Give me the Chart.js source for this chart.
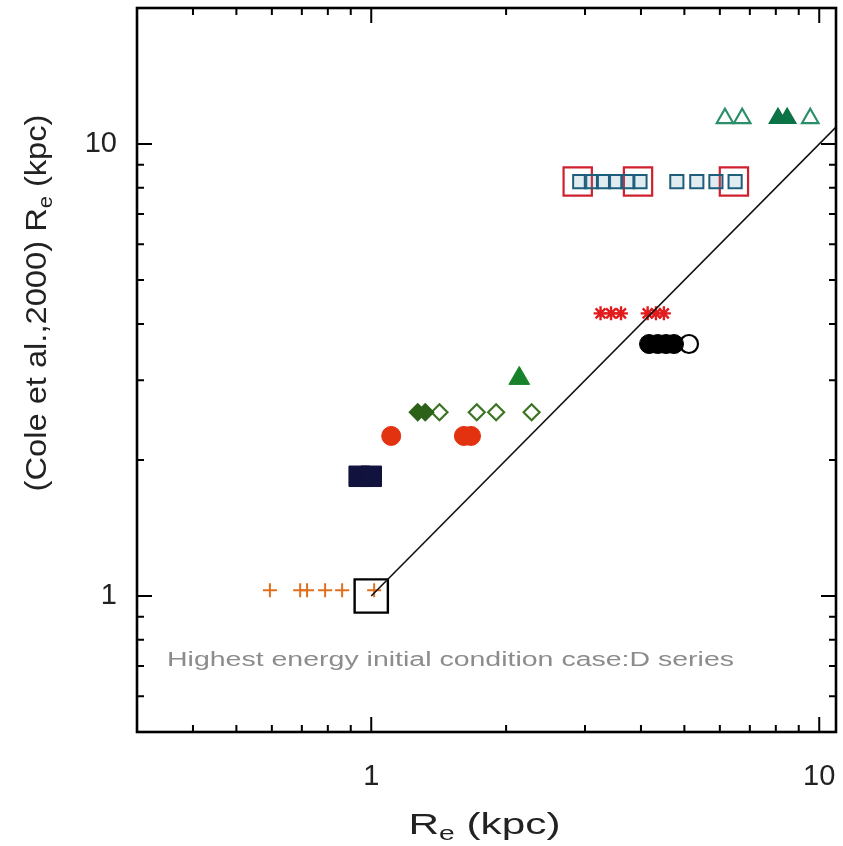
<!DOCTYPE html>
<html>
<head>
<meta charset="utf-8">
<script src="https://cdn.jsdelivr.net/npm/chart.js@4"></script>
<style>
  html, body { margin: 0; padding: 0; background: #fff; }
  #wrap { width: 843px; height: 846px; }
</style>
</head>
<body>
<div id="wrap"><canvas id="c" width="843" height="846"></canvas></div>
<script>
/* Re comparison, log-log, case D series */
const FONT = '"Liberation Sans", Arial, Helvetica, sans-serif';

// axis ranges and ticks
const xRange = [0.3, 10.9];
const yRange = [0.5, 20];
const xMajor = [1, 10];
const xMinor = [0.4, 0.5, 0.6, 0.7, 0.8, 0.9, 2, 3, 4, 5, 6, 7, 8, 9];
const yMajor = [1, 10];
const yMinor = [0.6, 0.7, 0.8, 0.9, 2, 3, 4, 5, 6, 7, 8, 9];

// series
const plusX      = [0.594, 0.694, 0.719, 0.789, 0.861, 1.015];
const plusY      = [1.03, 1.03, 1.03, 1.03, 1.03, 1.03];
const navyX      = [0.94, 1.0];
const navyY      = [1.84, 1.84];
const redDotX    = [1.108, 1.61, 1.67];
const redDotY    = [2.26, 2.26, 2.26];
const diaFillX   = [1.27, 1.32];
const diaFillY   = [2.55, 2.55];
const diaOpenX   = [1.42, 1.72, 1.90, 2.28];
const diaOpenY   = [2.55, 2.55, 2.55, 2.55];
const greenTriX  = [2.14];
const greenTriY  = [3.03];
const starX      = [3.25, 3.43, 3.61, 4.14, 4.32, 4.50];
const starY      = [4.22, 4.22, 4.22, 4.22, 4.22, 4.22];
const blackDotX  = [4.17, 4.36, 4.55, 4.74];
const blackDotY  = [3.61, 3.61, 3.61, 3.61];
const blackOpenX = [5.12];
const blackOpenY = [3.61];
const blueSqX    = [2.92, 3.10, 3.30, 3.51, 3.74, 3.98, 4.81, 5.33, 5.88, 6.49];
const blueSqY    = [8.26, 8.26, 8.26, 8.26, 8.26, 8.26, 8.26, 8.26, 8.26, 8.26];
const redBoxX    = [2.89, 3.94, 6.45];
const redBoxY    = [8.26, 8.26, 8.26];
const triOpenX   = [6.16, 6.73, 9.55];
const triOpenY   = [11.4, 11.4, 11.4];
const triFillX   = [8.09, 8.48];
const triFillY   = [11.4, 11.4];
const refBoxX    = [1.0];
const refBoxY    = [1.0];
const oneToOneX  = [1.0, 10.9];
const oneToOneY  = [1.0, 10.9];

const note = 'Highest energy initial condition case:D series';
const noteAt = { x: 0.35, y: 0.70 };

const pts = (xs, ys) => xs.map((x, i) => ({ x, y: ys[i] }));

function marks(xs, ys, style, radius, stroke, fill, width = 2) {
  return {
    type: 'scatter',
    data: pts(xs, ys),
    pointStyle: style,
    pointRadius: radius,
    pointHoverRadius: radius,
    borderColor: stroke,
    backgroundColor: fill,
    pointBorderWidth: width,
    borderWidth: width,
  };
}

const datasets = [
  {
    type: 'line',
    data: pts(oneToOneX, oneToOneY),
    borderColor: '#111',
    borderWidth: 1.6,
    pointRadius: 0,
    fill: false,
  },
  marks(plusX, plusY, 'cross', 7, '#e0701e', '#e0701e', 2),
  marks(navyX, navyY, 'rect', 14.5, '#12123e', '#12123e', 1),
  marks(redDotX, redDotY, 'circle', 9.5, '#e2320f', '#e2320f', 1),
  marks(diaFillX, diaFillY, 'rectRot', 8, '#2b6118', '#2b6118', 2),
  marks(diaOpenX, diaOpenY, 'rectRot', 8, '#3b7423', '#ffffff', 2.2),
  marks(greenTriX, greenTriY, 'triangle', 12, '#17822a', '#17822a', 1),
  marks(starX, starY, 'star', 7, '#e21c1c', '#e21c1c', 2.4),
  marks(blackDotX, blackDotY, 'circle', 9.5, '#000', '#000', 1),
  marks(blackOpenX, blackOpenY, 'circle', 9, '#000', '#ffffff', 2.2),
  marks(blueSqX, blueSqY, 'rect', 9.3, '#1f5d7c', 'rgba(90,150,180,0.18)', 2),
  marks(redBoxX, redBoxY, 'rect', 20, '#d0202e', 'rgba(0,0,0,0)', 2.2),
  marks(triOpenX, triOpenY, 'triangle', 9.5, '#2a8f68', '#ffffff', 2.2),
  marks(triFillX, triFillY, 'triangle', 9.5, '#0c7346', '#0c7346', 2),
  marks(refBoxX, refBoxY, 'rect', 23.5, '#000', 'rgba(0,0,0,0)', 2.4),
];

function logTicks(major, minor) {
  return scale => {
    scale.ticks = major.concat(minor).sort((a, b) => a - b)
      .map(v => ({ value: v, major: major.includes(v) }));
  };
}

// fixed axis boxes, no extra room for label overhang
function fixBox(size) {
  return s => {
    if (s.isHorizontal()) s.height = size; else s.width = size;
    s.paddingLeft = s.paddingRight = s.paddingTop = s.paddingBottom = 0;
  };
}

// draw text stretched to a given width, centred on 0
function fitText(ctx, parts, width) {
  let w = 0;
  parts.forEach(p => { ctx.font = `${p.size}px ${FONT}`; p.w = ctx.measureText(p.t).width; w += p.w; });
  ctx.scale(width / w, 1);
  let cx = -w / 2;
  parts.forEach(p => {
    ctx.font = `${p.size}px ${FONT}`;
    ctx.fillText(p.t, cx, p.dy);
    cx += p.w;
  });
}

// inward tick marks on all four sides plus the frame
const frame = {
  id: 'frame',
  afterDatasetsDraw(chart) {
    const { ctx, chartArea: a, scales: { x, y } } = chart;
    ctx.save();
    ctx.strokeStyle = '#000';
    ctx.lineWidth = 2;
    ctx.beginPath();
    x.ticks.forEach(t => {
      const px = x.getPixelForValue(t.value);
      const len = t.major ? 15 : 7;
      ctx.moveTo(px, a.bottom); ctx.lineTo(px, a.bottom - len);
      ctx.moveTo(px, a.top);    ctx.lineTo(px, a.top + len);
    });
    y.ticks.forEach(t => {
      const py = y.getPixelForValue(t.value);
      const len = t.major ? 15 : 7;
      ctx.moveTo(a.left, py);  ctx.lineTo(a.left + len, py);
      ctx.moveTo(a.right, py); ctx.lineTo(a.right - len, py);
    });
    ctx.stroke();
    ctx.lineWidth = 2.6;
    ctx.strokeRect(a.left, a.top, a.right - a.left, a.bottom - a.top);
    ctx.restore();
  },
  afterDraw(chart) {
    const { ctx, chartArea: a, scales: { x, y } } = chart;

    // note inside the plot
    ctx.save();
    ctx.fillStyle = '#8c8c8c';
    ctx.textBaseline = 'alphabetic';
    const nx = x.getPixelForValue(noteAt.x), ny = y.getPixelForValue(noteAt.y);
    ctx.translate(nx + 567 / 2, ny);
    fitText(ctx, [{ t: note, size: 20, dy: 0 }], 567);
    ctx.restore();

    // axis titles with subscript e
    ctx.save();
    ctx.fillStyle = '#222';
    ctx.textBaseline = 'alphabetic';
    ctx.translate((a.left + a.right) / 2 - 2, 834);
    fitText(ctx, [{ t: 'R', size: 30, dy: 0 }, { t: 'e', size: 20, dy: 6 }, { t: ' (kpc)', size: 30, dy: 0 }], 152);
    ctx.restore();

    ctx.save();
    ctx.fillStyle = '#222';
    ctx.textBaseline = 'alphabetic';
    ctx.translate(46, 303);
    ctx.rotate(-Math.PI / 2);
    fitText(ctx, [{ t: '(Cole et al.,2000) R', size: 30, dy: 0 }, { t: 'e', size: 20, dy: 6 }, { t: ' (kpc)', size: 30, dy: 0 }], 377);
    ctx.restore();
  },
};

const tickLabel = v => (v === 1 ? '1' : v === 10 ? '10' : '');

new Chart(document.getElementById('c'), {
  data: { datasets },
  options: {
    responsive: false,
    animation: false,
    layout: { autoPadding: false, padding: { top: 8, right: 7, left: 0, bottom: 0 } },
    plugins: { legend: { display: false }, tooltip: { enabled: false } },
    scales: {
      x: {
        type: 'logarithmic',
        min: xRange[0],
        max: xRange[1],
        afterBuildTicks: logTicks(xMajor, xMinor),
        afterFit: fixBox(114),
        grid: { display: false },
        border: { display: false },
        ticks: {
          autoSkip: false, maxRotation: 0, padding: 20,
          color: '#222', font: { family: FONT, size: 29 },
          callback: tickLabel,
        },
      },
      y: {
        type: 'logarithmic',
        min: yRange[0],
        max: yRange[1],
        afterBuildTicks: logTicks(yMajor, yMinor),
        afterFit: fixBox(137),
        grid: { display: false },
        border: { display: false },
        ticks: {
          autoSkip: false, padding: 12,
          color: '#222', font: { family: FONT, size: 29 },
          callback: tickLabel,
        },
      },
    },
  },
  plugins: [frame],
});
</script>
</body>
</html>
